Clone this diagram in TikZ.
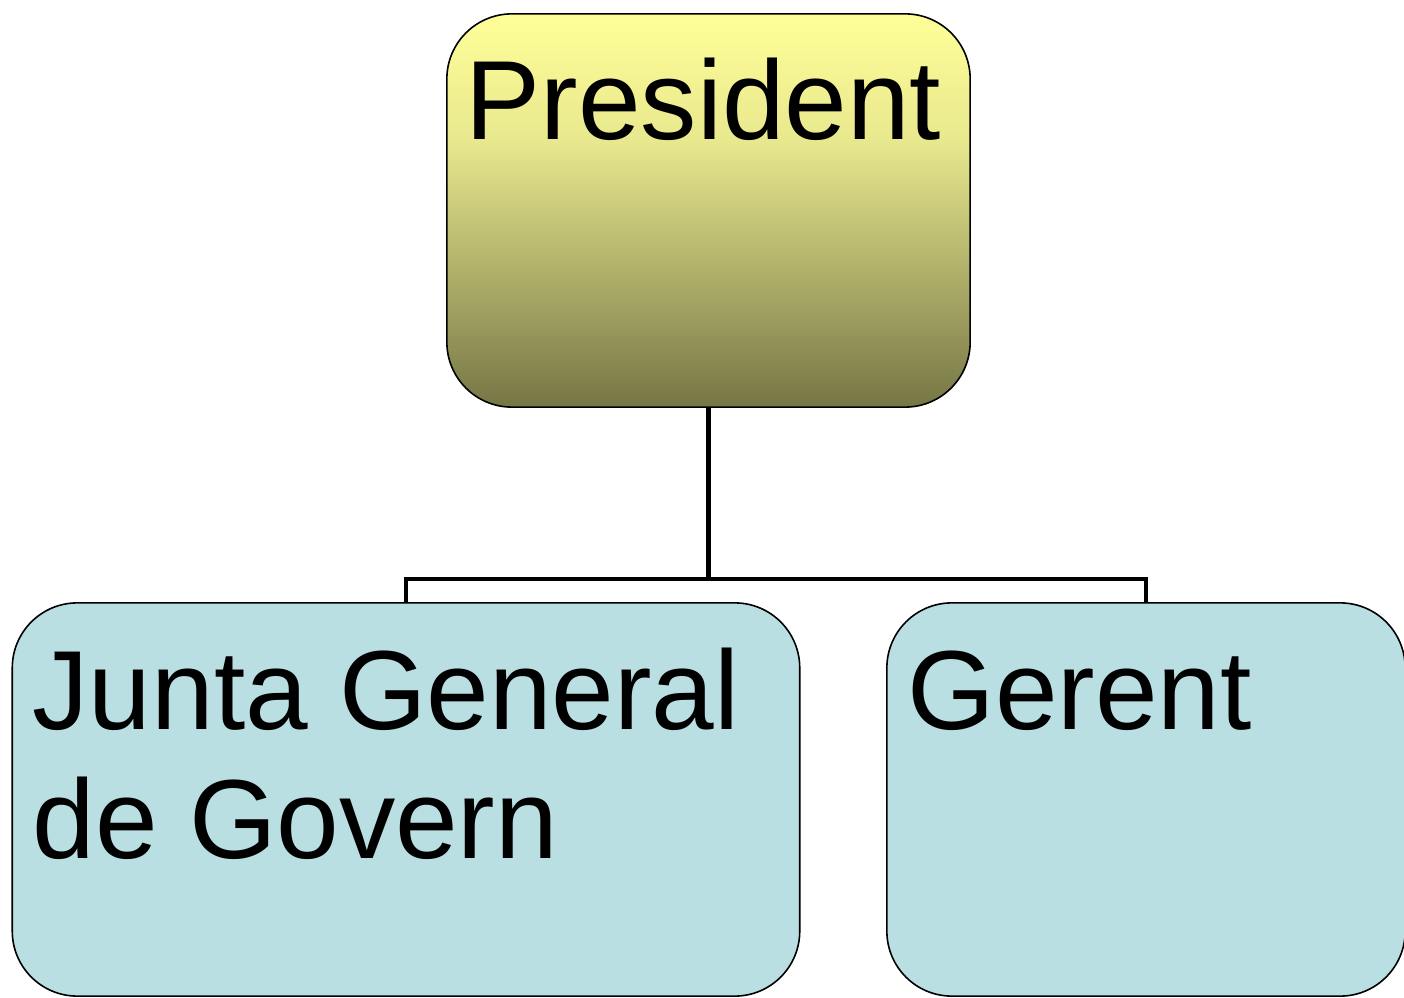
\documentclass[tikz,border=0pt]{standalone}
\usepackage{xcolor}
\usepackage{fontspec}
\setmainfont{Liberation Sans}
\usepackage{tikz}
\usetikzlibrary{calc}

\definecolor{presTop}{HTML}{FFFF99}
\definecolor{presMid}{HTML}{E8E88E}
\definecolor{presBot}{HTML}{767646}
\definecolor{subFill}{HTML}{BADFE2}
\pgfdeclareverticalshading{presshade}{100bp}{color(0bp)=(presBot); color(25bp)=(presBot); color(59bp)=(presMid); color(75bp)=(presTop); color(100bp)=(presTop)}

\begin{document}
\begin{tikzpicture}[x=0.01cm,y=-0.01cm,
    orgbox/.style={draw=black, line width=0.016cm, rounded corners=0.65cm, inner sep=0pt},
    orgtext/.style={inner sep=0pt, anchor=base west, align=left, font=\fontsize{32}{36.4}\selectfont}]
                        \useasboundingbox (0,0) rectangle (1404,998);
                        
                        % Drawing box President
                        \node [orgbox, shading=presshade, minimum width=5.23cm, minimum height=3.93cm] (pres) at (708.5,210.5) {};%
                        
                        % Drawing box Junta
                        \node [orgbox, fill=subFill, minimum width=7.87cm, minimum height=3.93cm] (junta) at (406,799.5) {};%
                        
                        % Drawing box Gerent
                        \node [orgbox, fill=subFill, minimum width=5.18cm, minimum height=3.93cm] (gerent) at (1146,799.5) {};%
                        
                        % Drawing connectors
                        \coordinate (fork) at ($(pres.south)+(0,171)$);%
                        \draw [line width=0.045cm] (pres.south) -- (fork) -| (junta.north);%
                        \draw [line width=0.045cm] (fork) -| (gerent.north);%
                        
                        % Marking labels
                        \node [orgtext] (presText) at (465,140) {President};%
                        \node [orgtext] (juntaText) at (32,858) {Junta General\\de Govern};%
                        \node [orgtext] (gerentText) at (907,729) {Gerent};%
\end{tikzpicture}
\end{document}
